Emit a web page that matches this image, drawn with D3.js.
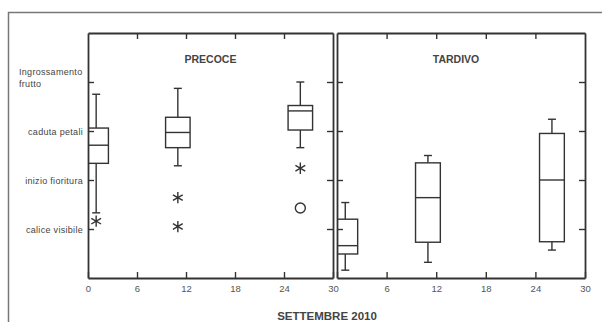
<!DOCTYPE html>
<html>
<head>
<meta charset="utf-8">
<script src="https://cdn.jsdelivr.net/npm/d3@7"></script>
<style>
  body { margin: 0; background: #fff; }
  svg { display: block; font-family: 'Liberation Sans', Arial, sans-serif; }
</style>
</head>
<body>
<script>
// phenological phases on the y axis (1..4)
const phases = ['calice visibile', 'inizio fioritura', 'caduta petali', 'Ingrossamento frutto'];
const dayTicks = [0, 6, 12, 18, 24, 30];
const days = [1, 11, 26];

// PRECOCE box stats per sampling day
const precoceLow = [1.33, 2.29, 2.66];
const precoceQ1 = [2.34, 2.66, 3.02];
const precoceMed = [2.71, 2.97, 3.41];
const precoceQ3 = [3.06, 3.28, 3.52];
const precoceHigh = [3.75, 3.87, 4.0];
const precoceStars = [[1, 1.16], [11, 1.64], [11, 1.05], [26, 2.24]];
const precoceCircles = [[26, 1.43]];

// TARDIVO box stats
const tardivoLow = [0.16, 0.32, 0.57];
const tardivoQ1 = [0.49, 0.73, 0.74];
const tardivoMed = [0.66, 1.64, 2.0];
const tardivoQ3 = [1.2, 2.35, 2.95];
const tardivoHigh = [1.54, 2.5, 3.24];

const W = 602, H = 322;
const plotTop = 33, plotBottom = 278;
const ink = '#333';

const svg = d3.select('body').append('svg').attr('width', W).attr('height', H);

// scanned page frame
svg.append('rect')
  .attr('x', 8.5).attr('y', 12.5).attr('width', 620).attr('height', 340)
  .attr('fill', 'none').attr('stroke', '#777').attr('stroke-width', 1.5);

const y = d3.scaleLinear().domain([0, 5]).range([plotBottom, plotTop]);

const panels = [
  { title: 'PRECOCE', titleDay: 15, x0: 88, x1: 333, low: precoceLow, q1: precoceQ1, med: precoceMed, q3: precoceQ3, high: precoceHigh,
    stars: precoceStars, circles: precoceCircles, labels: dayTicks },
  { title: 'TARDIVO', titleDay: 14.4, x0: 337, x1: 585, low: tardivoLow, q1: tardivoQ1, med: tardivoMed, q3: tardivoQ3, high: tardivoHigh,
    stars: [], circles: [], labels: dayTicks.slice(1) },
];

const defs = svg.append('defs');

panels.forEach((p, pi) => {
  const x = d3.scaleLinear().domain([0, 30]).range([p.x0, p.x1]);
  const g = svg.append('g');

  defs.append('clipPath').attr('id', 'clip' + pi)
    .append('rect')
    .attr('x', p.x0).attr('y', plotTop)
    .attr('width', p.x1 - p.x0).attr('height', plotBottom - plotTop);

  const marks = g.append('g').attr('clip-path', `url(#clip${pi})`);

  // boxes
  const bw = x(1.5) - x(0);
  days.forEach((d, i) => {
    const cx = x(d);
    const bg = marks.append('g').attr('stroke', ink).attr('stroke-width', 1.4).attr('fill', 'none');
    bg.append('line').attr('x1', cx).attr('x2', cx).attr('y1', y(p.high[i])).attr('y2', y(p.q3[i]));
    bg.append('line').attr('x1', cx).attr('x2', cx).attr('y1', y(p.q1[i])).attr('y2', y(p.low[i]));
    bg.append('line').attr('x1', cx - 4).attr('x2', cx + 4).attr('y1', y(p.high[i])).attr('y2', y(p.high[i]));
    bg.append('line').attr('x1', cx - 4).attr('x2', cx + 4).attr('y1', y(p.low[i])).attr('y2', y(p.low[i]));
    bg.append('rect')
      .attr('x', cx - bw).attr('width', 2 * bw)
      .attr('y', y(p.q3[i])).attr('height', y(p.q1[i]) - y(p.q3[i]));
    bg.append('line').attr('x1', cx - bw).attr('x2', cx + bw).attr('y1', y(p.med[i])).attr('y2', y(p.med[i]));
  });

  marks.selectAll('path.star')
    .data(p.stars)
    .enter()
    .append('path')
    .attr('class', 'star')
    .attr('transform', (d) => `translate(${x(d[0])},${y(d[1])})`)
    .attr('d', d3.symbol(d3.symbolAsterisk, 90))
    .attr('fill', 'none').attr('stroke', ink).attr('stroke-width', 1.4);

  marks.selectAll('circle.out')
    .data(p.circles)
    .enter()
    .append('circle')
    .attr('class', 'out')
    .attr('cx', (d) => x(d[0])).attr('cy', (d) => y(d[1])).attr('r', 5)
    .attr('fill', 'none').attr('stroke', ink).attr('stroke-width', 1.4);

  // axes, ticks pointing inward
  const bottomAxis = d3.axisBottom(x).tickValues(dayTicks).tickSize(-6).tickSizeOuter(0).tickPadding(7)
    .tickFormat((d) => (p.labels.includes(d) ? d : ''));
  const topAxis = d3.axisTop(x).tickValues(dayTicks.slice(1, -1)).tickSize(-6).tickSizeOuter(0).tickFormat('');
  const leftAxis = d3.axisLeft(y).tickValues([1, 2, 3, 4]).tickSize(-6).tickSizeOuter(0).tickFormat('');
  const rightAxis = d3.axisRight(y).tickValues([1, 2, 3, 4]).tickSize(-6).tickSizeOuter(0).tickFormat('');

  [
    [bottomAxis, `translate(0,${plotBottom})`],
    [topAxis, `translate(0,${plotTop})`],
    [leftAxis, `translate(${p.x0},0)`],
    [rightAxis, `translate(${p.x1},0)`],
  ].forEach(([ax, tr]) => {
    const a = g.append('g').attr('transform', tr).call(ax);
    a.selectAll('path.domain').attr('stroke', ink).attr('stroke-width', 1.8);
    a.selectAll('.tick line').attr('stroke', ink).attr('stroke-width', 1.4);
    a.selectAll('.tick text').attr('fill', '#555').attr('font-size', 9.5).attr('font-family', 'Liberation Sans, Arial, sans-serif');
  });

  g.append('text')
    .attr('x', x(p.titleDay)).attr('y', 63)
    .attr('text-anchor', 'middle')
    .attr('font-size', 10.5).attr('font-weight', 'bold').attr('fill', '#444')
    .text(p.title);
});

// phase labels on the left
phases.forEach((ph, i) => {
  const v = i + 1;
  if (i === phases.length - 1) {
    const words = ph.split(' ');
    const t = svg.append('text').attr('font-size', 9).attr('fill', '#444').attr('letter-spacing', 0.3);
    t.append('tspan').attr('x', 19).attr('y', y(v) - 7).text(words[0]);
    t.append('tspan').attr('x', 19).attr('y', y(v) + 5).text(words.slice(1).join(' '));
  } else {
    svg.append('text')
      .attr('x', 83).attr('y', y(v) + 3.5)
      .attr('text-anchor', 'end')
      .attr('font-size', 9).attr('fill', '#444').attr('letter-spacing', 0.3)
      .text(ph);
  }
});

svg.append('text')
  .attr('x', 327).attr('y', 320)
  .attr('text-anchor', 'middle')
  .attr('font-size', 11.5).attr('font-weight', 'bold').attr('fill', '#444')
  .text('SETTEMBRE 2010');
</script>
</body>
</html>
